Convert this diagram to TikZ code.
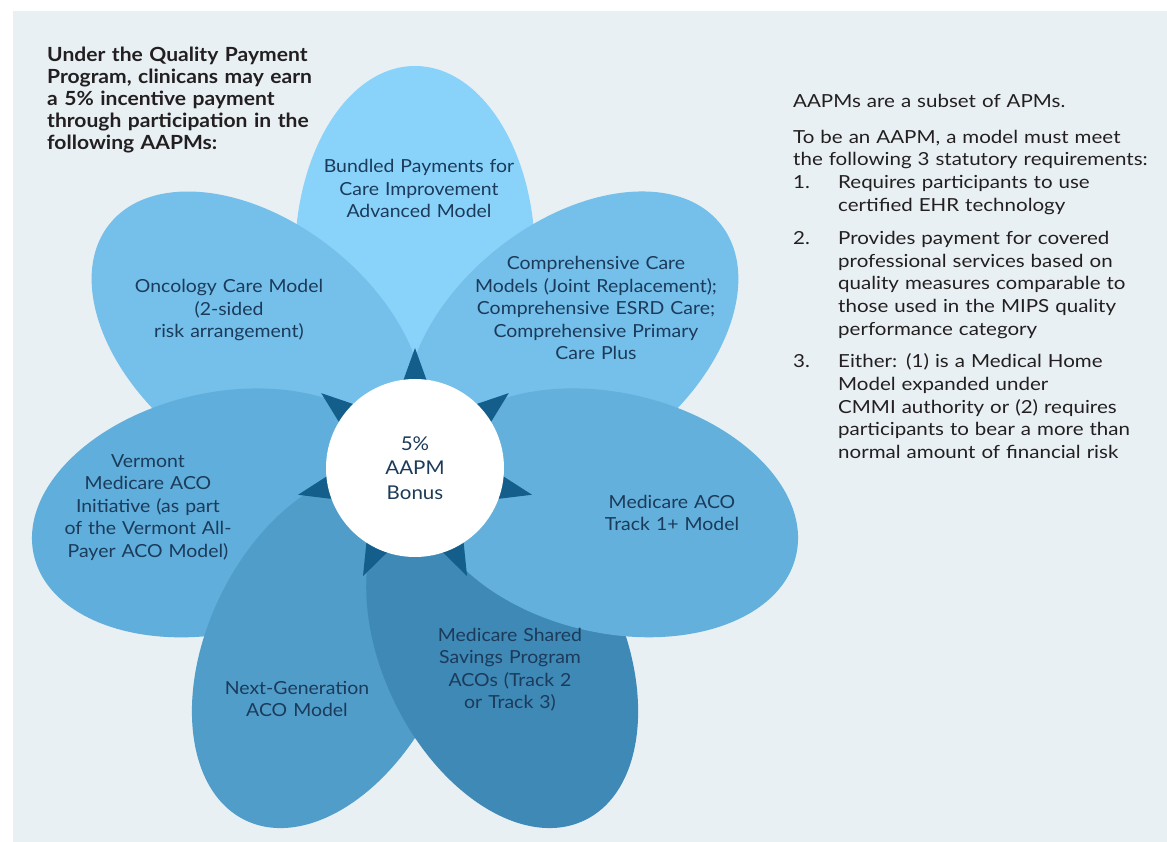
\documentclass[tikz,border=0pt]{standalone}
\usepackage{fontspec}
\setmainfont{Lato}[FakeStretch=1.08]
\newfontfamily\notefont{Lato}[FakeStretch=1.14]
\usetikzlibrary{calc}
\definecolor{panel}{HTML}{E8F0F4}
\definecolor{ink}{HTML}{231F20}
\definecolor{navy}{HTML}{1C3A5A}
\definecolor{petalA}{HTML}{89D3FB}
\definecolor{petalB}{HTML}{74C0EB}
\definecolor{petalC}{HTML}{5FAEDB}
\definecolor{petalD}{HTML}{509DC9}
\definecolor{petalE}{HTML}{3E89B6}
\definecolor{petalF}{HTML}{62B0DB}
\definecolor{raydark}{HTML}{135E8A}
\newcommand{\reqitem}[2]{\makebox[45pt][l]{#1}\parbox[t]{325pt}{#2}}

\begin{document}
\begin{tikzpicture}[x=1pt,y=-1pt,
 petaltext/.style={text=navy,align=center,text width=270pt,inner sep=0pt,anchor=base,font=\fontsize{18}{22.5}\selectfont},
 note/.style={text=ink,align=left,text width=370pt,inner sep=0pt,anchor=base west,font=\notefont\fontsize{18}{22.7}\selectfont},
 hub/.style={circle,fill=white,minimum size=178pt,inner sep=0pt,text=navy,align=center,font=\fontsize{19}{24.5}\selectfont}]
\useasboundingbox (0,0) rectangle (1167,842);
\fill[panel] (13,11) rectangle (1167,842);
\coordinate (ctr) at (415,468);
% petals, back to front
\foreach \ang/\dist/\col in {90/212/petalA,38.6/201/petalB,141.4/201/petalB,-167.1/201/petalC,-115.7/201/petalD,-64.3/201/petalE,-12.9/201/petalF}
  \fill[\col,rotate around={\ang:(ctr)}] ($(ctr)+(\dist,0)$) ellipse [x radius=190,y radius=120];
\foreach \ang in {90,38.6,141.4,-167.1,-115.7,-64.3,-12.9}
  \fill[raydark,rotate around={\ang:(ctr)}] ($(ctr)+(120,0)$) -- ($(ctr)+(84,13)$) -- ($(ctr)+(84,-13)$) -- cycle;
\node[hub] (bonus) at (ctr) {5\%\\AAPM\\Bonus};
\node[petaltext] (bpci) at (419,173) {Bundled Payments for\\Care Improvement\\Advanced Model};
\node[petaltext] (ocm) at (229,293) {Oncology Care Model\\(2-sided\\risk arrangement)};
\node[petaltext] (ccm) at (596,270) {Comprehensive Care\\Models (Joint Replacement);\\Comprehensive ESRD Care;\\Comprehensive Primary\\Care Plus};
\node[petaltext] (vmt) at (148,467) {Vermont\\Medicare ACO\\Initiative (as part\\of the Vermont All-\\Payer ACO Model)};
\node[petaltext] (track) at (672,508) {Medicare ACO\\Track 1+ Model};
\node[petaltext] (ngaco) at (297,694) {Next-Generation\\ACO Model};
\node[petaltext] (mssp) at (510,641) {Medicare Shared\\Savings Program\\ACOs (Track 2\\or Track 3)};
\node[note,text width=300pt,font=\fontsize{19.5}{22}\selectfont\bfseries] (intro) at (47,62) {Under the Quality Payment\\Program, clinicans may earn\\a 5\% incentive payment\\through participation in the\\following AAPMs:};
\node[note] (aapm) at (793,108) {AAPMs are a subset of APMs.\par\vspace{12.5pt}
To be an AAPM, a model must meet\\the following 3 statutory requirements:\par
\reqitem{1.}{Requires participants to use\\certified EHR technology}\par\vspace{15.5pt}
\reqitem{2.}{Provides payment for covered\\professional services based on\\quality measures comparable to\\those used in the MIPS quality\\performance category}\par\vspace{14.5pt}
\reqitem{3.}{Either: (1) is a Medical Home\\Model expanded under\\CMMI authority or (2) requires\\participants to bear a more than\\normal amount of financial risk}};
\end{tikzpicture}
\end{document}
